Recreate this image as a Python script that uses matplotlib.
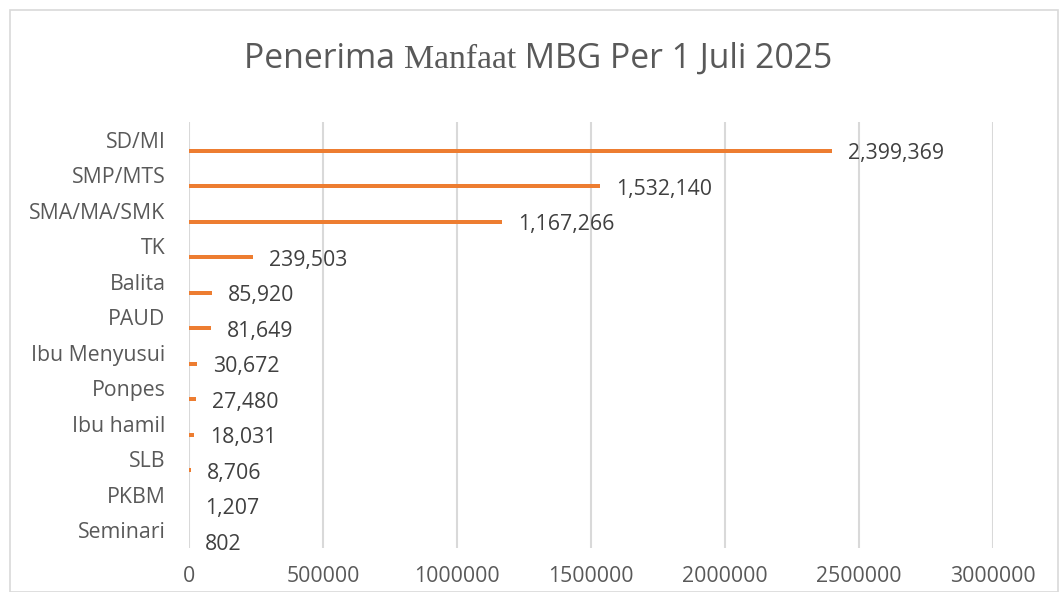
import matplotlib
matplotlib.use("Agg")
import matplotlib.pyplot as plt
from matplotlib.patches import Rectangle
from matplotlib.transforms import offset_copy

# data (top to bottom)
categories = ["SD/MI", "SMP/MTS", "SMA/MA/SMK", "TK", "Balita", "PAUD",
              "Ibu Menyusui", "Ponpes", "Ibu hamil", "SLB", "PKBM", "Seminari"]
values = [2399369, 1532140, 1167266, 239503, 85920, 81649,
          30672, 27480, 18031, 8706, 1207, 802]
xticks = [0, 500000, 1000000, 1500000, 2000000, 2500000, 3000000]

grey = "#595959"
orange = "#ED7D31"
plt.rcParams['font.family'] = ['Open Sans', 'DejaVu Sans']

fig = plt.figure(figsize=(10.59, 5.92), dpi=100)
ax = fig.add_axes([0.1785, 0.0743, 0.7592, 0.7197])

# chart border
fig.patches.append(Rectangle((10 / 1059, 0), 1048 / 1059, 582 / 592,
                             transform=fig.transFigure, fill=False,
                             edgecolor="#d9d9d9", linewidth=1.2))

pos = [i + 0.31 for i in range(len(categories))]
ax.barh(pos, values, height=0.11, color=orange)

for p, v in zip(pos, values):
    tr = offset_copy(ax.transData, fig=fig, x=16, y=-3, units='dots')
    ax.text(v, p, f"{v:,}", transform=tr, ha='left', va='center',
            fontsize=15.3, color="#404040")

ax.set_ylim(len(categories) - 0.5, -0.5)
ax.set_yticks(range(len(categories)))
ax.set_yticklabels(categories)
ax.set_xlim(0, 3000000)
ax.set_xticks(xticks)
ax.set_xticklabels([str(t) for t in xticks])
ax.tick_params(axis='both', length=0, labelsize=15.3, labelcolor=grey)
ax.tick_params(axis='y', pad=17)
ax.tick_params(axis='x', pad=13)
ax.grid(axis='x', color="#d9d9d9", linewidth=1.5)
ax.set_axisbelow(True)
for s in ax.spines.values():
    s.set_visible(False)

# title with a serif word in the middle
t1 = fig.text(0, 0.885, "Penerima ", fontsize=24.3, color=grey, va='baseline')
t2 = fig.text(0, 0.885, "Manfaat", fontsize=24.3, color=grey, va='baseline',
              family=['Liberation Serif'])
t3 = fig.text(0, 0.885, " MBG Per 1 Juli 2025", fontsize=24.3, color=grey,
              va='baseline')
r = fig.canvas.get_renderer()
w = [t.get_window_extent(r).width for t in (t1, t2, t3)]
x0 = 538 - sum(w) / 2
for t, wi in zip((t1, t2, t3), w):
    t.set_x(x0 / 1059)
    x0 += wi

fig.savefig("out.png", dpi=100)
